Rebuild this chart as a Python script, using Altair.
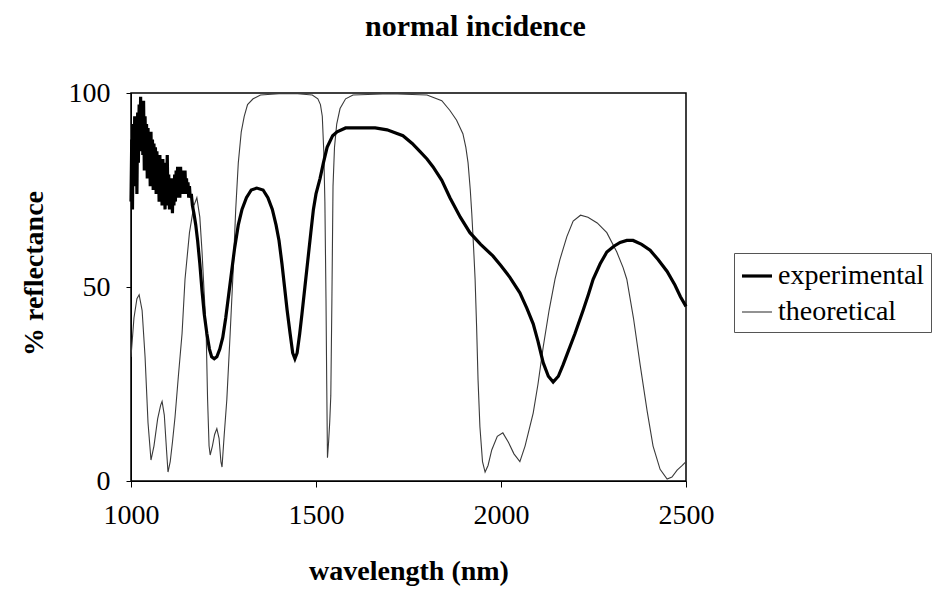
import altair as alt
import pandas as pd

# ---- data ----
theo_wl = [1000, 1008, 1016, 1022, 1030, 1038, 1046, 1054, 1062, 1072, 1080, 1084, 1090, 1096, 1100,
           1106, 1112, 1119, 1128, 1138, 1146, 1158, 1170, 1178, 1186, 1192, 1198, 1203, 1207, 1211,
           1214, 1220, 1226, 1232, 1238, 1243, 1246, 1252, 1259, 1268, 1276, 1283, 1290, 1298, 1306,
           1315, 1330, 1350, 1400, 1450, 1490, 1505, 1512, 1517, 1521, 1524, 1527, 1529, 1531, 1534,
           1537, 1540, 1543, 1546, 1550, 1556, 1565, 1580, 1600, 1700, 1800, 1840, 1862, 1880, 1897,
           1905, 1911, 1917, 1921, 1926, 1930, 1934, 1938, 1943, 1950, 1957, 1965, 1975, 1990, 2005,
           2020, 2035, 2051, 2065, 2087, 2100, 2114, 2130, 2146, 2159, 2178, 2195, 2215, 2235, 2260,
           2286, 2313, 2330, 2340, 2358, 2376, 2395, 2411, 2430, 2449, 2462, 2476, 2490, 2500]
theo_r = [32, 42, 47, 48, 44, 32, 15, 5.4, 9, 16, 19.5, 20.5, 17, 8, 2.3,
          5, 10, 16.5, 27, 38, 52, 64, 71, 73, 68, 59, 48, 39, 21, 9,
          6.7, 9, 12, 13.5, 11, 5, 3.6, 12, 21, 38, 54, 70, 82, 90, 94,
          97, 98.5, 99.5, 99.8, 99.8, 99.5, 98.5, 97, 94, 85, 72, 47, 25, 6, 10,
          15, 22, 47, 76, 86, 92, 96, 98.5, 99.5, 99.8, 99.5, 98, 95.5, 93, 89.5,
          86, 82, 75, 69, 60, 52, 40, 26, 14, 5, 2.3, 4, 8, 11.5, 12.4,
          10, 7, 5, 9, 17.5, 25, 34.5, 44, 52, 57, 63, 67, 68.5, 68, 66.5,
          64, 59, 55, 52, 42, 30, 18, 9, 3, 0.5, 1, 2.8, 4, 5]

exp_wl = [1000, 1002, 1004, 1006, 1008, 1010, 1012, 1014, 1016, 1018, 1020, 1022, 1024, 1026, 1028,
          1030, 1032, 1034, 1036, 1038, 1040, 1042, 1044, 1046, 1048, 1050, 1052, 1054, 1056, 1058,
          1060, 1062, 1064, 1066, 1068, 1070, 1072, 1074, 1076, 1078, 1080, 1082, 1084, 1086, 1088,
          1090, 1092, 1094, 1096, 1098, 1100, 1102, 1104, 1106, 1108, 1110, 1112, 1114, 1116, 1118,
          1120, 1122, 1124, 1126, 1128, 1130, 1132, 1134, 1136, 1138, 1140, 1142, 1144, 1146, 1148,
          1150, 1152, 1154, 1156, 1158, 1160, 1163, 1166, 1170, 1175, 1180, 1186, 1192, 1198, 1205,
          1212, 1218, 1225, 1232, 1240, 1248, 1256, 1264, 1272, 1280, 1290, 1300, 1312, 1325, 1340,
          1357, 1370, 1382, 1392, 1400, 1408, 1415, 1422, 1430, 1437, 1443, 1449, 1456, 1462, 1470,
          1478, 1486, 1493, 1500, 1511, 1520, 1530, 1545, 1557, 1580, 1620, 1660, 1692, 1735, 1760,
          1780, 1800, 1816, 1840, 1862, 1890, 1916, 1945, 1978, 2000, 2024, 2051, 2070, 2087, 2100,
          2114, 2128, 2141, 2155, 2168, 2178, 2200, 2222, 2236, 2249, 2268, 2286, 2305, 2322, 2340,
          2357, 2380, 2403, 2425, 2449, 2470, 2485, 2500]
exp_r = [72, 88, 70, 92, 76, 94, 80, 90, 74, 95, 82, 97, 85, 99, 86,
         97, 84, 98, 80, 94, 83, 92, 78, 91, 80, 89, 76, 90, 78, 88,
         75, 87, 77, 86, 74, 85, 76, 83, 72, 84, 75, 82, 71, 83, 73,
         80, 70, 82, 72, 84, 71, 79, 70, 78, 72, 77, 69, 78, 71, 79,
         72, 80, 73, 81, 74, 80, 73, 81, 75, 80, 74, 79, 75, 80, 74,
         78, 74, 77, 73, 76, 73, 74, 71, 69, 66, 62, 56, 49, 43, 38,
         34, 32, 31.5, 32, 34, 37, 42, 48, 54, 60, 66, 70, 73, 75, 75.5,
         75, 73, 70, 66, 62, 56, 50, 44, 38, 33, 31.5, 33, 38, 43, 50,
         57, 64, 70, 74, 78, 82, 86, 89, 90, 91, 91, 91, 90.5, 89, 87,
         85, 83, 81, 77.5, 73, 68, 64, 61, 58, 55.5, 52.5, 48.5, 44.5, 40.5, 36,
         30.5, 27, 25.5, 27, 30, 32.5, 38, 44, 48, 52, 56, 59, 60.5, 61.5, 62,
         62, 61, 59.5, 57, 54, 50.5, 47.5, 45]

series_names = ["experimental", "theoretical"]
series_colors = ["#000000", "#3a3a3a"]
series_widths = [3.2, 1.1]
x_ticks = [1000, 1500, 2000, 2500]
y_ticks = [0, 50, 100]

df = pd.concat([
    pd.DataFrame({"wl": exp_wl, "r": exp_r, "series": "experimental", "ord": range(len(exp_wl))}),
    pd.DataFrame({"wl": theo_wl, "r": theo_r, "series": "theoretical", "ord": range(len(theo_wl))}),
])

FONT = "Liberation Serif"

x_enc = alt.X("wl:Q", scale=alt.Scale(domain=[1000, 2500], nice=False),
              axis=alt.Axis(values=x_ticks, format="d", grid=False, title="wavelength (nm)",
                            labelFlush=False, labelFontSize=28, labelPadding=14, tickSize=6,
                            titleFontSize=28, titleFontWeight="bold", titlePadding=28,
                            domainColor="black", tickColor="black", labelColor="black",
                            titleColor="black"))
y_enc = alt.Y("r:Q", scale=alt.Scale(domain=[0, 100], nice=False),
              axis=alt.Axis(values=y_ticks, format="d", grid=False, title="% reflectance",
                            labelFlush=False, labelFontSize=28, labelPadding=16, tickSize=5,
                            titleFontSize=28, titleFontWeight="bold", titlePadding=20,
                            titleY=180,
                            domainColor="black", tickColor="black", labelColor="black",
                            titleColor="black"))
legend_cfg = dict(title=None, orient="none", legendX=603, legendY=160,
                  labelFontSize=28, labelFont=FONT, labelColor="black",
                  symbolType="stroke", symbolSize=900,
                  strokeColor="#555555", padding=6, rowPadding=6, labelOffset=4)
color_enc = alt.Color("series:N", scale=alt.Scale(domain=series_names, range=series_colors),
                      legend=alt.Legend(**legend_cfg))
width_enc = alt.StrokeWidth("series:N", scale=alt.Scale(domain=series_names, range=series_widths),
                            legend=alt.Legend(**legend_cfg))

base = alt.Chart(df).mark_line().encode(x=x_enc, y=y_enc, color=color_enc,
                                        strokeWidth=width_enc, order="ord:Q")

theo = base.transform_filter(alt.datum.series == "theoretical")
expe = base.transform_filter(alt.datum.series == "experimental")

chart = alt.layer(theo, expe).properties(
    width=555, height=388,
    title=alt.TitleParams("normal incidence", fontSize=30, fontWeight="bold", font=FONT,
                          color="black", dx=67, offset=37, anchor="middle"),
    autosize=alt.AutoSizeParams(type="none"),
    padding={"left": 123, "top": 85, "right": 251, "bottom": 112},
).configure(font=FONT).configure_view(stroke="black", strokeWidth=1.5).configure_axis(
    labelFont=FONT, titleFont=FONT)

chart.save("out.html", embed_options={"renderer": "svg", "actions": False})
